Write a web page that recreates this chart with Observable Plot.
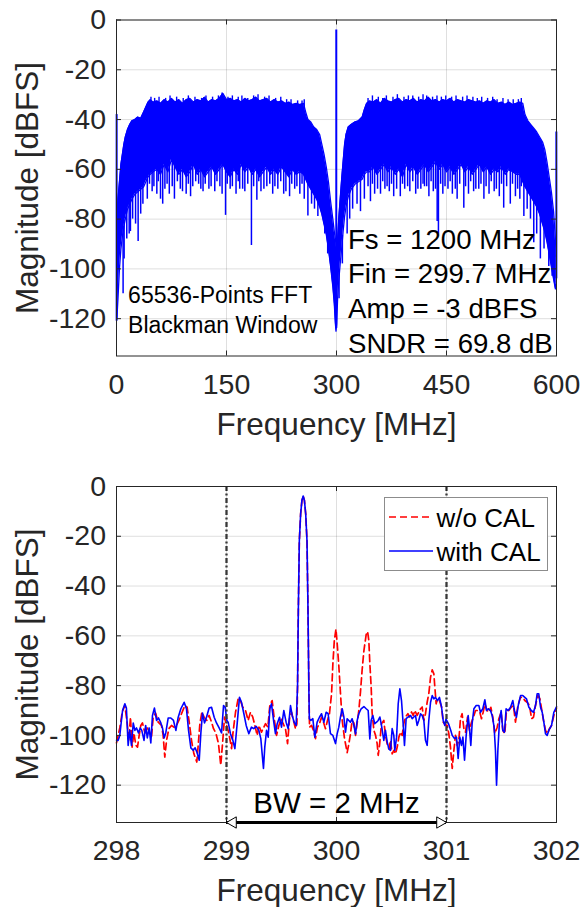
<!DOCTYPE html>
<html>
<head>
<meta charset="utf-8">
<script src="https://cdn.jsdelivr.net/npm/d3@7"></script>
<script src="https://cdn.jsdelivr.net/npm/@observablehq/plot@0.6"></script>
<style>
  body { margin: 0; background: #fff; font-family: "Liberation Sans", Arial, sans-serif; }
  #wrap { position: relative; width: 581px; height: 907px; overflow: hidden; background: #fff; }
  #wrap svg { position: absolute; left: 0; display: block; }
  #legend { position: absolute; left: 384px; top: 497px; width: 162px; height: 72px; border: 1px solid #8c8c8c; background: #fff; }
  #legend svg { position: absolute; left: 0; top: 0; }
</style>
</head>
<body>
<div id="wrap"></div>
<script>
// ---------------- DATA ----------------
// Top panel: 65536-point FFT spectrum, read as [frequency MHz, upper envelope dB, lower envelope dB]
const spectrum = [
  [0.5,-80,-120],[2,-72,-112],[4,-65,-100],[6,-58,-92],[8,-54,-87],[10,-50,-83],[12,-47,-80],[15,-44,-76],
  [18,-42,-74],[21,-40.5,-72],[25,-40,-70],[29,-39,-69],[33,-39.5,-68],[37,-37,-67],[40,-35,-65],[43,-33,-63],
  [46,-32,-62],[50,-33,-61],
  [55,-32.5,-60],[60,-33.5,-62],[65,-32,-58],[70,-33,-61],[75,-31.5,-56],[80,-33,-59],[85,-32,-62],[90,-33.5,-60],
  [95,-32,-63],[100,-31.5,-61],[105,-33,-58],[110,-32,-62],[115,-32.5,-60],[120,-31,-63],[125,-33,-61],[130,-32,-59],
  [135,-32.5,-62],[140,-31.5,-60],[145,-29.5,-58],[150,-32,-61],[155,-31.5,-63],[160,-32.5,-60],[165,-32,-62],
  [170,-33,-58],[175,-31.5,-61],[180,-32.5,-59],[185,-32,-62],[190,-31,-60],[195,-32.5,-63],[200,-32,-61],
  [205,-31.5,-59],[210,-33,-62],[215,-32,-60],[220,-33,-62],[225,-32.5,-59],[230,-33.5,-61],[235,-33,-63],
  [240,-34,-60],[245,-33.5,-62],[250,-34,-61],[255,-33.5,-62],
  [258,-37,-64],[261,-40,-66],[265,-41,-68],[269,-43,-70],[273,-44,-72],[277,-46,-75],[280,-50,-78],[283,-54,-82],
  [286,-59,-86],[289,-65,-92],[292,-73,-99],[295,-80,-107],[297,-85,-114],[298.5,-88,-122],[299.3,-90,-125],
  [300.3,-92,-122],[301.5,-88,-112],[303,-80,-105],[305,-72,-98],[307,-64,-92],[309,-57,-85],[311,-50,-79],
  [313,-46,-75],[316,-43,-71],[320,-42,-68],[325,-41,-66],[330,-40.5,-65],[335,-39,-64],[338,-36,-62],[341,-33.5,-61],
  [345,-32.5,-61],[350,-33,-59],[355,-32,-62],[360,-33.5,-60],[365,-31.5,-58],[370,-32.5,-61],[375,-33,-59],
  [380,-32,-62],[385,-31.5,-60],[390,-33,-63],[395,-32,-58],[400,-32.5,-61],[405,-31.5,-59],[410,-33,-62],
  [415,-32,-60],[420,-32.5,-58],[425,-31,-61],[430,-32.5,-59],[435,-32,-57],[440,-33,-60],[445,-32,-58],
  [450,-32.5,-61],[455,-31.5,-59],[460,-33,-62],[465,-32,-60],[470,-32.5,-58],[475,-33,-61],[480,-32,-59],
  [485,-32.5,-62],[490,-33,-60],[495,-32.5,-58],[500,-33.5,-61],[505,-32.5,-59],[510,-33,-62],[515,-32,-60],
  [520,-33.5,-61],[525,-33,-59],[530,-34,-62],[535,-33,-60],[540,-34,-61],[545,-33.5,-62],[550,-33,-62],
  [554,-33.5,-65],[557,-38,-67],[561,-40.5,-69],[565,-42,-71],[569,-43.5,-73],[573,-45,-75],[577,-47,-78],
  [581,-49,-82],[584,-52,-85],[587,-57,-89],[590,-63,-94],[593,-69,-99],[596,-77,-104],[598.5,-88,-108],[599.7,-95,-105]
];
// Small upward bins on top of the noise floor: [frequency MHz, dB]
const crests = [
  [47,-31],[52,-31.5],[58,-31],[67,-31.5],[73,-30.5],[82,-31],[91,-31.5],[98,-30.5],[107,-31],[116,-31.5],
  [122,-30.5],[131,-31],[139,-30.5],[144,-29.3],[152,-31],[158,-30.5],[166,-31],[171,-30.5],[179,-31.5],[187,-30.5],
  [193,-30],[202,-31],[208,-30.5],[217,-31.5],[224,-31],[232,-32],[238,-32],[247,-32.5],[253,-32.5],[256,-32],
  [343,-31.5],[349,-30.5],[357,-31],[363,-31.5],[368,-30.5],[377,-31],[383,-30],[392,-31],[398,-30.5],[404,-30.5],
  [412,-31],[418,-30],[423,-30.5],[431,-31],[437,-30.5],[443,-31],[449,-30.5],[457,-31],[463,-30.5],[472,-31],
  [478,-30.5],[486,-31],[492,-31.5],[498,-31],[506,-31.5],[513,-31],[519,-32],[527,-31.5],[534,-32],[541,-32],
  [548,-32],[552,-31.5]
];
// Downward bins below the noise floor: [frequency MHz, dB]
const dips = [
  [9,-110],[10.4,-96],[14,-88],[17.3,-86],[19,-85],[22,-80],[26,-82],[29.5,-89],[33,-78],[36,-74],
  [42,-72],[48.6,-69],[55,-70],[60,-72],[63,-74],[72,-70],[79,-72],[87,-68],[95,-70],[101,-71],
  [112,-66],[118,-69],[126,-68],[134,-69],[141,-67],[148.7,-78.5],[155,-68],[163,-70],[168,-68],[175,-69],
  [184,-90.6],[191.4,-72.4],[197,-69],[205,-67],[213,-70],[220,-68],[228,-70],[236,-71],[243,-68],[250,-70],
  [256,-72],[261,-78.8],[266,-74],[270,-76],[274.6,-79],[279,-75],[284,-86],[288,-94],
  [45,-66],[51,-67],[57,-65],[66,-68],[69,-66],[76,-67],[83,-65],[90,-69],[98,-66],[104,-67],
  [108,-65],[115,-68],[121,-66],[129,-67],[137,-65],[144,-70],[151,-66],[158,-67],[166,-65],[172,-68],
  [179,-66],[187,-67],[194,-65],[201,-68],[209,-66],[216,-67],[224,-65],[231,-69],[239,-66],[246,-67],[253,-66],
  [303.5,-112],[308,-98],[314.5,-86],[318,-80],[322,-76],[328,-74],[332.7,-77],[338,-72],[346.3,-73],[352,-70],
  [360,-70],[366,-68],[372,-69],[378,-71],[387,-71],[393,-68],[400,-69],[408,-70],[415,-68],[420,-67],
  [426,-71],[432,-69],[437.3,-81],[439,-86],[445,-70],[452,-68],[458,-70],[464.5,-72],[473.6,-75.6],[480,-70],
  [487,-69],[494,-68],[501,-72],[508,-70],[515,-69],[522,-71],[528,-75.6],[537,-74],[544,-71],[550,-72],
  [555.5,-79],[560,-76],[564.5,-80],[569,-89.5],[573,-86],[578,-96],[583,-92],[589.5,-99],[594,-103],
  [343,-67],[349,-66],[356,-68],[363,-65],[369,-67],[375,-66],[382,-68],[390,-66],[397,-67],[404,-65],
  [411,-68],[418,-66],[423,-67],[429,-65],[435,-68],[442,-66],[448,-67],[455,-65],[462,-68],[468,-66],
  [476,-67],[483,-65],[490,-68],[497,-66],[504,-67],[511,-65],[518,-68],[525,-66],[532,-67],[540,-66],
  [547,-68],[552,-67]
];
// Tall bins: [frequency MHz, bottom dB, top dB] (DC edge, input tone, Nyquist edge)
const peaks = [[0.2,-121,-38],[299.7,-124,-4],[599.8,-104,-45]];

// Bottom panel, zoom around the tone: [frequency MHz, dB]
const withCal = [
  [298.000,-102],[298.015,-102],[298.030,-100],[298.055,-90],[298.076,-87.3],[298.090,-89],[298.106,-104],[298.120,-98],
  [298.136,-104],[298.152,-95],[298.167,-98],[298.182,-97],[298.200,-99],[298.215,-97],[298.230,-98],[298.250,-102],
  [298.265,-96],[298.280,-101],[298.297,-97],[298.312,-103],[298.327,-92],[298.345,-89],[298.364,-94],[298.382,-93],
  [298.403,-95],[298.418,-97],[298.433,-101],[298.448,-99],[298.470,-93],[298.494,-93],[298.518,-94],[298.540,-98],
  [298.561,-92.7],[298.585,-89.3],[298.615,-86.7],[298.636,-89.3],[298.655,-98],[298.676,-105],[298.697,-106],[298.715,-105],
  [298.733,-107],[298.752,-110],[298.767,-99],[298.782,-91],[298.800,-95],[298.818,-92.7],[298.842,-89],[298.864,-88.7],
  [298.888,-92.7],[298.909,-95],[298.933,-97],[298.955,-99],[298.973,-88],[298.988,-88.7],[299.003,-94],[299.015,-94.7],
  [299.036,-99.3],[299.058,-102],[299.076,-105.3],[299.097,-95.3],[299.118,-84.7],[299.136,-86.7],[299.158,-91.3],[299.179,-96],
  [299.203,-99.3],[299.227,-96.7],[299.248,-97.3],[299.270,-96.4],[299.294,-98],[299.312,-101.3],[299.324,-107.3],[299.336,-113.3],
  [299.348,-104.7],[299.364,-98],[299.379,-100.7],[299.394,-89.3],[299.409,-87.3],[299.430,-94.7],[299.445,-99.3],[299.461,-95.3],
  [299.482,-92.7],[299.500,-96.7],[299.521,-90],[299.542,-94.7],[299.561,-97.3],[299.582,-88],[299.597,-92],[299.615,-94.7],
  [299.633,-96],[299.646,-80],[299.653,-50],[299.662,-22],[299.674,-11],[299.686,-5.5],[299.697,-3.8],[299.708,-5.5],
  [299.720,-11],[299.732,-22],[299.741,-50],[299.749,-82],[299.753,-93.3],[299.767,-94],[299.785,-93.3],[299.803,-100.7],
  [299.824,-94.7],[299.845,-92.7],[299.864,-91.3],[299.885,-94.7],[299.906,-90.7],[299.924,-91.3],[299.945,-99.3],[299.967,-100],
  [299.991,-103.3],[300.006,-99.4],[300.021,-96.7],[300.036,-92.6],[300.052,-89.3],[300.067,-92.6],[300.082,-98.7],[300.097,-93.3],
  [300.112,-94],[300.127,-94.7],[300.142,-93.3],[300.158,-96],[300.173,-99.4],[300.188,-94],[300.203,-91.3],[300.224,-89.3],
  [300.249,-88.4],[300.270,-89.3],[300.288,-90],[300.303,-101.4],[300.315,-94],[300.330,-92],[300.348,-95.3],[300.364,-94.7],
  [300.379,-94],[300.394,-92.6],[300.409,-96],[300.430,-102],[300.445,-98],[300.461,-102.7],[300.476,-105.4],[300.491,-106],
  [300.506,-97.3],[300.521,-100],[300.530,-106],[300.546,-100.7],[300.561,-87.3],[300.576,-81.3],[300.591,-86],[300.606,-95.3],
  [300.618,-104],[300.633,-93.3],[300.652,-92.6],[300.673,-92],[300.688,-93.3],[300.703,-92.6],[300.718,-92],[300.733,-96],
  [300.748,-94],[300.764,-91.3],[300.779,-92],[300.794,-94],[300.809,-102],[300.824,-104],[300.839,-94],[300.855,-86.7],
  [300.870,-84],[300.885,-85.3],[300.900,-84.7],[300.918,-86],[300.936,-84.7],[300.955,-88.6],[300.970,-94],[300.985,-96],
  [300.995,-93.5],[301.020,-95.5],[301.039,-98],[301.052,-100],[301.073,-101.3],[301.091,-100.7],[301.106,-109.3],[301.121,-100.7],
  [301.136,-104],[301.149,-100.7],[301.164,-110],[301.179,-100],[301.197,-92],[301.209,-97.3],[301.221,-104],[301.233,-95.3],
  [301.249,-89.3],[301.270,-88],[301.294,-88],[301.309,-90.7],[301.330,-89.3],[301.349,-85.7],[301.364,-90],[301.379,-89.3],
  [301.400,-90],[301.415,-92],[301.433,-96.7],[301.445,-106],[301.455,-120],[301.467,-106],[301.482,-94],[301.497,-90],
  [301.512,-98],[301.527,-98.7],[301.542,-89.3],[301.561,-90],[301.582,-88.7],[301.603,-86],[301.618,-90],[301.636,-92.7],
  [301.652,-88],[301.673,-84],[301.694,-84],[301.712,-84.7],[301.727,-85.3],[301.749,-88.7],[301.770,-90],[301.791,-90.7],
  [301.809,-88],[301.824,-83.3],[301.839,-83.3],[301.855,-88.7],[301.870,-90.7],[301.885,-94.7],[301.900,-99.3],[301.915,-100],
  [301.930,-98],[301.955,-96],[301.976,-90.7],[302.000,-88.5]
];
const withoutCal = [
  [298.000,-103],[298.030,-97],[298.052,-90.7],[298.076,-88],[298.097,-95],[298.112,-102],[298.127,-92.7],[298.142,-104.7],
  [298.158,-99],[298.176,-104],[298.191,-104.7],[298.206,-100],[298.221,-96],[298.236,-95],[298.258,-99],[298.273,-96.7],
  [298.294,-98],[298.318,-100.7],[298.333,-93],[298.355,-91],[298.379,-94.7],[298.409,-96],[298.424,-100],[298.439,-108.7],
  [298.455,-102],[298.476,-97.3],[298.500,-96],[298.524,-96.7],[298.545,-96],[298.567,-94],[298.591,-91.3],[298.621,-88],
  [298.642,-88.7],[298.661,-94.7],[298.682,-102],[298.703,-107.3],[298.730,-110.7],[298.739,-106],[298.758,-95.3],[298.776,-90.7],
  [298.797,-92.7],[298.821,-94],[298.842,-92],[298.864,-94.7],[298.882,-97.3],[298.903,-99],[298.927,-103.3],[298.948,-112],
  [298.964,-103.3],[298.982,-92.7],[298.995,-95],[299.015,-98],[299.030,-101.3],[299.046,-105.3],[299.058,-99.3],[299.082,-90.7],
  [299.106,-85.3],[299.127,-86],[299.148,-88.7],[299.173,-90],[299.197,-94],[299.218,-90.7],[299.239,-92.7],[299.258,-96],
  [299.279,-100],[299.294,-96],[299.318,-98.7],[299.339,-96.7],[299.355,-95.3],[299.376,-96.7],[299.394,-88],[299.415,-86],
  [299.436,-94],[299.455,-100],[299.476,-96],[299.497,-93.3],[299.515,-95.3],[299.536,-97.3],[299.555,-103.3],[299.573,-93.3],
  [299.591,-90.7],[299.609,-94],[299.627,-97.3],[299.640,-95.3],[299.646,-80],[299.653,-50],[299.662,-22],[299.674,-11],
  [299.686,-5.5],[299.697,-3.8],[299.708,-5.5],[299.720,-11],[299.732,-22],[299.741,-50],[299.749,-82],[299.755,-96.7],
  [299.773,-96],[299.791,-98],[299.809,-101.3],[299.827,-96.7],[299.845,-95.3],[299.864,-92.7],[299.882,-94.7],[299.900,-97.3],
  [299.918,-94],[299.936,-91.3],[299.955,-83.3],[299.967,-71.3],[299.980,-62],[299.995,-57.3],[300.006,-63],[300.021,-72],
  [300.036,-83],[300.052,-94],[300.073,-101.3],[300.097,-106.9],[300.112,-103.5],[300.127,-99.4],[300.142,-94],[300.158,-95],
  [300.173,-100],[300.188,-95],[300.203,-90],[300.218,-82.5],[300.233,-73.7],[300.249,-66],[300.270,-59.4],[300.283,-58.3],
  [300.294,-62],[300.303,-71],[300.315,-80.5],[300.324,-91],[300.340,-98],[300.355,-100],[300.370,-103.4],[300.379,-108],
  [300.391,-104],[300.409,-95.3],[300.430,-94],[300.445,-100],[300.461,-103.4],[300.476,-105.4],[300.491,-102],[300.506,-107.4],
  [300.521,-106],[300.536,-107.4],[300.552,-104.7],[300.567,-100.7],[300.582,-98.7],[300.597,-100],[300.612,-95.3],[300.627,-92.6],
  [300.649,-91.3],[300.664,-92.6],[300.682,-90.6],[300.697,-92],[300.712,-90],[300.733,-92],[300.748,-90.6],[300.764,-89.3],
  [300.779,-88.6],[300.794,-94],[300.809,-91.3],[300.824,-86.7],[300.839,-83.3],[300.855,-76.6],[300.870,-73.7],[300.885,-75.3],
  [300.894,-80.6],[300.906,-87.3],[300.918,-85.3],[300.936,-86],[300.955,-88.6],[300.970,-94.7],[300.991,-95.8],[301.006,-96],
  [301.021,-99.3],[301.036,-104.7],[301.052,-113.3],[301.067,-106],[301.082,-100],[301.097,-104],[301.112,-102],[301.127,-93.3],
  [301.142,-91.3],[301.158,-97.3],[301.173,-98.7],[301.191,-92.7],[301.209,-98],[301.227,-94.7],[301.245,-92.7],[301.264,-90],
  [301.285,-90],[301.303,-90.7],[301.318,-93.3],[301.333,-90.7],[301.349,-87.3],[301.367,-90],[301.385,-90.7],[301.403,-88.7],
  [301.421,-92.7],[301.439,-99.3],[301.461,-96.7],[301.476,-93.3],[301.497,-90.7],[301.512,-98],[301.530,-99.3],[301.545,-90],
  [301.567,-90],[301.588,-88.7],[301.609,-88],[301.627,-94.7],[301.649,-88],[301.673,-84.7],[301.694,-84.7],[301.712,-86],
  [301.733,-86.7],[301.755,-88],[301.773,-93.3],[301.791,-92.7],[301.809,-88],[301.830,-84],[301.849,-85.3],[301.864,-89.3],
  [301.882,-94],[301.900,-98],[301.918,-99.3],[301.936,-97.3],[301.955,-96],[301.976,-92],[302.000,-89]
];
const bwEdges = [299, 301];

// Tick labels / text
const topXTicks = [0, 150, 300, 450, 600];
const botXTicks = [298, 299, 300, 301, 302];
const yTicks = [0, -20, -40, -60, -80, -100, -120];
const yDomain = [-135, 0];
const fftNote = ["65536-Points FFT", "Blackman Window"];
const specNote = ["Fs = 1200 MHz", "Fin = 299.7 MHz", "Amp = -3 dBFS", "SNDR = 69.8 dB"];
const bwLabel = "BW = 2 MHz";
const seriesNames = ["w/o CAL", "with CAL"];
const xLabel = "Frequency [MHz]";
const yLabel = "Magnitude [dBFS]";

(function () {
// ---------------- STYLE ----------------
const BLUE = "#0000ff", RED = "#ff0000", AX = "#262626";
const FONT = "'Liberation Sans', Arial, Helvetica, sans-serif";
const W = 581, ML = 116, MR = 25, PH = 336, PW = W - ML - MR;
const TICK = 5;
const TICK_FS = 28.5, LABEL_FS = 31.5;

function envAt(f, col) {
  const i = d3.bisector(d => d[0]).left(spectrum, f);
  if (i <= 0) return spectrum[0][col];
  if (i >= spectrum.length) return spectrum[spectrum.length - 1][col];
  const a = spectrum[i - 1], b = spectrum[i];
  const t = (f - a[0]) / (b[0] - a[0]);
  return a[col] + t * (b[col] - a[col]);
}

function frameMarks(xDomain, xTicks) {
  const tx = TICK * (xDomain[1] - xDomain[0]) / PW;
  const ty = TICK * (yDomain[1] - yDomain[0]) / PH;
  return [
    Plot.frame({stroke: AX, strokeWidth: 1}),
    Plot.ruleX(xTicks, {x: d => d, y1: yDomain[0], y2: yDomain[0] + ty, stroke: AX}),
    Plot.ruleX(xTicks, {x: d => d, y1: yDomain[1], y2: yDomain[1] - ty, stroke: AX}),
    Plot.ruleY(yTicks, {y: d => d, x1: xDomain[0], x2: xDomain[0] + tx, stroke: AX}),
    Plot.ruleY(yTicks, {y: d => d, x1: xDomain[1], x2: xDomain[1] - tx, stroke: AX})
  ];
}
function gridMarks(xTicks) {
  return [
    Plot.ruleX(xTicks, {x: d => d, stroke: AX, strokeOpacity: 0.15}),
    Plot.ruleY(yTicks, {y: d => d, stroke: AX, strokeOpacity: 0.15})
  ];
}
function axisMarks(xTicks) {
  return [
    Plot.axisX(xTicks, {tickSize: 0, tickPadding: 17.5, fontSize: TICK_FS, tickFormat: d => String(d), label: null, fill: AX}),
    Plot.axisY(yTicks, {tickSize: 0, tickPadding: 10.5, fontSize: TICK_FS, tickFormat: d => String(d), label: null, fill: AX}),
    Plot.text([xLabel], {frameAnchor: "bottom", textAnchor: "middle", lineAnchor: "middle", dy: 68.5, fontSize: LABEL_FS, fill: AX}),
    Plot.text([yLabel], {frameAnchor: "left", textAnchor: "middle", lineAnchor: "middle", rotate: -90, dx: -89, fontSize: LABEL_FS, fill: AX})
  ];
}

const wrap = document.getElementById("wrap");

// ---------------- TOP PANEL ----------------
const topX = [0, 600];
const topPlot = Plot.plot({
  width: W, height: 455,
  marginLeft: ML, marginRight: MR, marginTop: 19.5, marginBottom: 99.5,
  style: {fontFamily: FONT, background: "white", overflow: "visible"},
  x: {domain: topX, axis: null},
  y: {domain: yDomain, axis: null},
  marks: [
    ...gridMarks(topXTicks),
    Plot.areaY(spectrum, {x: d => d[0], y1: d => d[2], y2: d => d[1], fill: BLUE, curve: "linear"}),
    Plot.line(spectrum, {x: d => d[0], y: d => d[1], stroke: BLUE, strokeWidth: 1.3}),
    Plot.line(spectrum, {x: d => d[0], y: d => d[2], stroke: BLUE, strokeWidth: 1.3}),
    Plot.ruleX(crests, {x: d => d[0], y1: d => d[1], y2: d => envAt(d[0], 1) - 1.5, stroke: BLUE, strokeWidth: 1.4}),
    Plot.ruleX(dips, {x: d => d[0], y1: d => d[1], y2: d => envAt(d[0], 2) + 2, stroke: BLUE, strokeWidth: 1.5}),
    Plot.ruleX(peaks, {x: d => d[0], y1: d => d[1], y2: d => d[2], stroke: BLUE, strokeWidth: 2}),
    ...frameMarks(topX, topXTicks),
    Plot.text([fftNote.join("\n")], {frameAnchor: "top-left", textAnchor: "start", lineAnchor: "top",
      dx: 11.6, dy: 262, fontSize: 23, lineHeight: 1.3, fill: "black"}),
    Plot.text([specNote.join("\n")], {frameAnchor: "top-left", textAnchor: "start", lineAnchor: "top",
      dx: 231.5, dy: 204, fontSize: 27.6, lineHeight: 1.26, fill: "black"}),
    ...axisMarks(topXTicks)
  ]
});
topPlot.style.top = "0px";
wrap.appendChild(topPlot);

// ---------------- BOTTOM PANEL ----------------
const botX = [298, 302];
const bwMid = (bwEdges[0] + bwEdges[1]) / 2;
const bottomPlot = Plot.plot({
  width: W, height: 452,
  marginLeft: ML, marginRight: MR, marginTop: 31, marginBottom: 85,
  style: {fontFamily: FONT, background: "white", overflow: "visible"},
  x: {domain: botX, axis: null},
  y: {domain: yDomain, axis: null},
  marks: [
    ...gridMarks(botXTicks),
    Plot.line(withoutCal, {x: d => d[0], y: d => d[1], stroke: RED, strokeWidth: 1.7, strokeDasharray: "7,4"}),
    Plot.line(withCal, {x: d => d[0], y: d => d[1], stroke: BLUE, strokeWidth: 1.6}),
    Plot.ruleX(bwEdges, {x: d => d, stroke: "#383838", strokeWidth: 2.3, strokeDasharray: "5,2.5,2,2.5"}),
    ...frameMarks(botX, botXTicks),
    Plot.ruleY([bwEdges], {y: () => yDomain[0], x1: d => d[0], x2: d => d[1], stroke: "black", strokeWidth: 3.2}),
    Plot.dot([bwEdges[0]], {x: d => d, y: () => yDomain[0], symbol: "triangle", r: 4.2, rotate: -90, dx: 6.5,
      fill: "white", stroke: "black", strokeWidth: 1}),
    Plot.dot([bwEdges[1]], {x: d => d, y: () => yDomain[0], symbol: "triangle", r: 4.2, rotate: 90, dx: -6.5,
      fill: "white", stroke: "black", strokeWidth: 1}),
    Plot.text([bwLabel], {x: () => bwMid, frameAnchor: "bottom", textAnchor: "middle", lineAnchor: "middle",
      dy: -18.5, fontSize: 29.5, fill: "black"}),
    ...axisMarks(botXTicks)
  ]
});
bottomPlot.style.top = "455px";
wrap.appendChild(bottomPlot);

// ---------------- LEGEND ----------------
const leg = document.createElement("div");
leg.id = "legend";
const ns = "http://www.w3.org/2000/svg";
const lsvg = document.createElementNS(ns, "svg");
lsvg.setAttribute("width", 162); lsvg.setAttribute("height", 72);
const legItems = [
  {name: seriesNames[0], color: RED, dash: "7,4", y: 19},
  {name: seriesNames[1], color: BLUE, dash: null, y: 53}
];
for (const it of legItems) {
  const ln = document.createElementNS(ns, "line");
  ln.setAttribute("x1", 4); ln.setAttribute("x2", 48);
  ln.setAttribute("y1", it.y); ln.setAttribute("y2", it.y);
  ln.setAttribute("stroke", it.color); ln.setAttribute("stroke-width", 1.6);
  if (it.dash) ln.setAttribute("stroke-dasharray", it.dash);
  lsvg.appendChild(ln);
  const tx = document.createElementNS(ns, "text");
  tx.setAttribute("x", 51.6); tx.setAttribute("y", it.y + 10);
  tx.setAttribute("font-size", 26); tx.setAttribute("font-family", FONT); tx.setAttribute("fill", "black");
  tx.textContent = it.name;
  lsvg.appendChild(tx);
}
leg.appendChild(lsvg);
wrap.appendChild(leg);
})();
</script>
</body>
</html>
